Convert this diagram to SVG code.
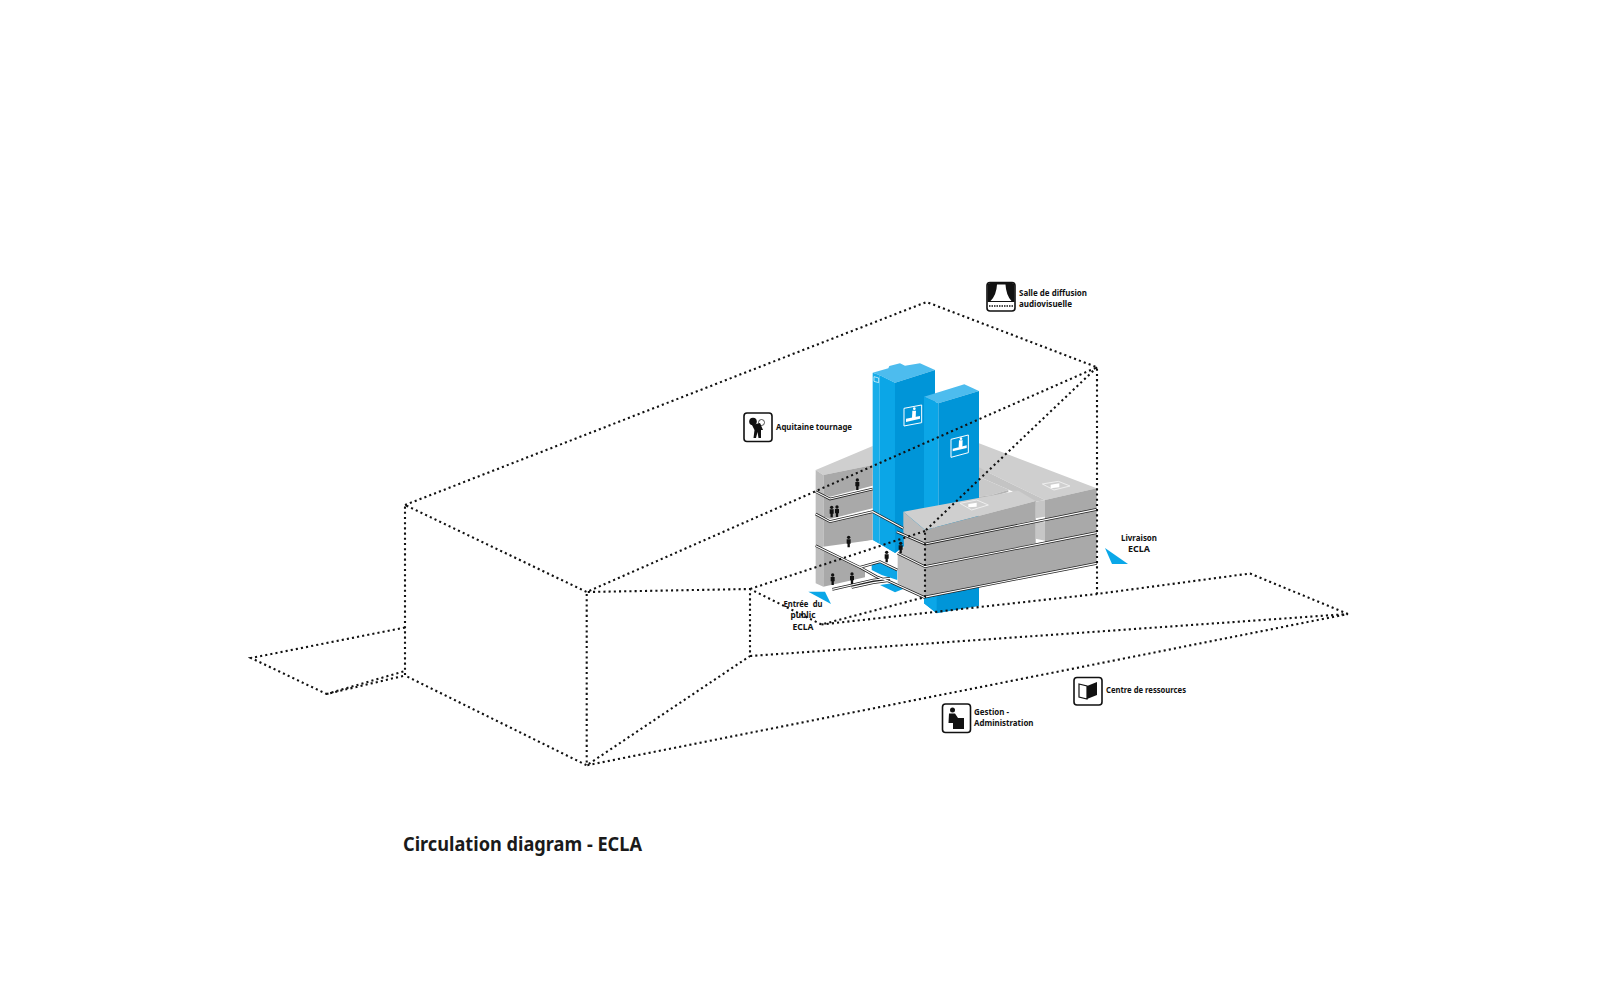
<svg xmlns="http://www.w3.org/2000/svg" width="1600" height="1000" viewBox="0 0 1600 1000">
<style>
.lbl{font-family:"Noto Sans","Liberation Sans",Arial,sans-serif;font-weight:700;font-size:9.5px;fill:#111}
.mid{text-anchor:middle}
.dot{fill:none;stroke:#111;stroke-width:2.1;stroke-dasharray:2.1 3.1}
.box{fill:#fff;stroke:#111;stroke-width:1.6}
.kk{fill:#111}
.top{fill:#cfcfcf}.front{fill:#a9a9a9}.side{fill:#bcbcbc}.white{fill:#fff}
.btop{fill:#4dbcee}.bl1{fill:#18ade9}.bl2{fill:#0ba6e7}.bd{fill:#0095d8}
.sk{fill:none;stroke:#222;stroke-width:8;stroke-linejoin:miter}
.sw{fill:none;stroke:#fff;stroke-width:3.4;stroke-linejoin:miter}
</style>
<defs>
<path id="slabs" d="M107,455L150,477L278,447M107,522L150,545L278,515L370,565M350,575L435,612L950,508M353,640L435,680L950,578M430,772L950,670M107,617L240,682L300,665L352,690M240,682L290,710L330,725L432,772M157,748L215,735L280,720L330,715M215,742L280,728L325,722"/>
<g id="p"><circle cx="0" cy="-30" r="5" fill="#111"/><path d="M-6,-24H6V-11H3.500V0H-3.500V-11H-6Z" fill="#111"/></g>
</defs>
<g id="building" transform="translate(780 340) scale(.33333)">
<polygon class="top" points="107,390 278,318 278,375 130,405"/>
<polygon class="top" points="597,310 950,445 795,480 630,400 597,385"/>
<polygon fill="#c4c4c4" points="597,382 630,400 795,480 767,485 597,410"/>
<polygon fill="#c9c9c9" points="597,410 767,485 715,452 685,450 635,465 597,470"/>
<polygon fill="#b4b4b4" points="685,450 685,456 635,471 597,476 597,470 635,465"/>
<polygon class="front" points="795,480 950,445 950,508 795,540"/>
<polygon fill="#c6c6c6" points="767,485 795,480 795,610 767,610"/>
<polygon class="white" points="767,535 795,530 795,547 767,545"/>
<polygon class="white" points="767,596 795,602 795,612 767,612"/>
<polygon class="btop" points="278,98 325,85 328,78 360,70 375,77 420,70 465,90 345,128 298,105"/>
<polygon class="bl1" points="278,98 298,105 298,612 278,602"/>
<polygon class="bl2" points="298,105 345,128 345,640 298,612"/>
<polygon class="bd" points="345,128 465,90 465,560 370,620 345,640"/>
<polygon class="btop" points="432,170 553,133 597,153 475,190"/>
<polygon class="bl2" points="432,170 475,190 475,500 432,520"/>
<polygon class="bd" points="475,190 597,153 597,798 470,820 432,790 475,500"/>
<polygon class="bl2" points="432,790 470,820 470,600 432,600"/>
<polygon class="front" points="130,405 278,375 278,600 130,630"/>
<polygon class="side" points="107,390 130,405 130,740 107,730"/>
<polygon class="front" points="130,625 255,690 255,712 130,740"/>
<polygon class="white" points="133,463 150,470 278,437 278,447 150,477"/>
<polygon class="white" points="133,530 150,537 278,505 278,515 150,545"/>
<polygon class="white" points="118,622 278,600 345,640 352,668 300,665 240,682"/>
<polygon class="white" points="255,690 300,672 352,697 352,722 330,725 290,712 255,712"/>
<polygon class="bl2" points="275,670 300,665 352,690 352,720 305,705 275,690"/>
<polygon class="bl2" points="300,735 345,757 375,745 335,730"/>
<polygon class="top" points="370,515 715,452 767,483 435,570"/>
<polygon class="front" points="435,570 767,483 767,540 435,612"/>
<polygon class="front" points="435,612 767,545 767,610 435,680"/>
<polygon class="front" points="795,540 950,508 950,578 795,610"/>
<polygon class="front" points="435,680 950,578 950,670 435,772"/>
<polygon class="side" points="370,515 435,570 435,772 353,730 353,640 372,620 370,570"/>
<use href="#slabs" class="sk"/>
<use href="#slabs" class="sw"/>
<use href="#p" x="232" y="450"/><use href="#p" x="155" y="532"/><use href="#p" x="171" y="531"/><use href="#p" x="206" y="622"/><use href="#p" x="158" y="735"/><use href="#p" x="216" y="732"/><use href="#p" x="320" y="667"/><use href="#p" x="362" y="640"/>
<polygon points="85,755 135,755 153,792" fill="#0aa7e8"/>
<g id="t1-icon"><polygon points="372,205 425,195 425,248 372,258" fill="none" stroke="#fff" stroke-width="3"/><path d="M378,236L420,228V236L378,246Z" fill="#fff"/><circle cx="403" cy="206" r="4" fill="#fff"/><path d="M397,212H408L407,234H396Z" fill="#fff"/></g>
<g id="t2-icon"><polygon points="513,298 565,285 565,338 513,352" fill="none" stroke="#fff" stroke-width="3"/><path d="M518,326L560,316V324L518,334Z" fill="#fff"/><circle cx="543" cy="296" r="4" fill="#fff"/><path d="M537,301H548L547,322H536Z" fill="#fff"/></g>
<path d="M282,110L296,114V128L282,124Z" fill="none" stroke="#fff" stroke-width="2"/>
<g id="roof-icons"><polygon points="540,490 590,480 625,495 575,510" fill="#cfcfcf" stroke="#eee" stroke-width="3"/><path d="M565,492L590,488V500L565,502Z" fill="#fff"/>
<polygon points="787,432 835,424 870,438 822,450" fill="#cfcfcf" stroke="#eee" stroke-width="3"/><path d="M812,434L838,430V442L812,445Z" fill="#fff"/></g>
</g>
<g id="connectors">
<path class="dot" d="M405,505L926.500,302L1097,367.300L586.700,592L405,505V675.500L586.700,765.300V592L750,589V656L586.700,765.300L1348,614L750,656"/>
<path class="dot" d="M1348,614L1250,573.500L1097,594V367.300"/>
<path class="dot" d="M1097,367.300L925,531V597L821.500,624.500L750,589M925,531L750,589M821.500,624.500L1097,594"/>
<path class="dot" d="M405,627.500L251,658L326.500,694L405,675.500M326.500,694L405,671"/>
</g>
<polygon id="arrow-livraison" points="1105,548 1128,564 1112,564" fill="#0aa7e8"/>
<g id="salle"><rect class="box" x="987" y="282.500" width="28" height="28.500" rx="3"/>
<path d="M987.500,285q0,-2 3,-2H1012q2.500,0 2.500,2V302H987.500Z" class="kk"/><path d="M997,284.500H1005.500Q1006,295 1011.500,301H990.500Q996.500,295 997,284.500Z" fill="#fff"/>
<path d="M989,306H1013" stroke="#111" stroke-width="1.600" stroke-dasharray="1.500 1"/>
<text class="lbl" x="1019" y="296" textLength="68" lengthAdjust="spacingAndGlyphs">Salle de diffusion</text>
<text class="lbl" x="1019" y="307" textLength="53" lengthAdjust="spacingAndGlyphs">audiovisuelle</text></g>
<g id="aquitaine"><rect class="box" x="744" y="413" width="28" height="28.500" rx="3"/>
<circle cx="753" cy="421.500" r="3.800" class="kk"/><circle cx="761.500" cy="422.500" r="3" fill="#fff" stroke="#111" stroke-width=".7"/><path d="M752,425L760,423L763,430H761L761,438H758.500L757.500,432L756,438H753.500L754.500,430Z" class="kk"/>
<text class="lbl" x="776" y="430" textLength="76" lengthAdjust="spacingAndGlyphs">Aquitaine tournage</text></g>
<g id="centre"><rect class="box" x="1074" y="677.500" width="28" height="27.500" rx="3"/>
<path d="M1079,684L1087,686V699L1079,697Z" fill="#fff" stroke="#111" stroke-width="1.200"/><path d="M1087,686L1097,682V695L1087,699Z" class="kk"/>
<text class="lbl" x="1106" y="693" textLength="80" lengthAdjust="spacingAndGlyphs">Centre de ressources</text></g>
<g id="gestion"><rect class="box" x="942.500" y="704" width="28" height="28.500" rx="3"/>
<circle cx="952.500" cy="710" r="2.500" class="kk"/><path d="M949,713.500H955L958,718H964V729H953V723H948.500Z" class="kk"/>
<text class="lbl" x="974" y="715" textLength="35" lengthAdjust="spacingAndGlyphs">Gestion -</text>
<text class="lbl" x="974" y="726" textLength="59.500" lengthAdjust="spacingAndGlyphs">Administration</text></g>
<g id="livraison"><text class="lbl mid" x="1139" y="541" textLength="36" lengthAdjust="spacingAndGlyphs">Livraison</text><text class="lbl mid" x="1139" y="552" textLength="22" lengthAdjust="spacingAndGlyphs">ECLA</text></g>
<g id="entree"><text class="lbl mid" x="803" y="607" textLength="39" lengthAdjust="spacingAndGlyphs" word-spacing="3">Entrée du</text><text class="lbl mid" x="803" y="618" textLength="25" lengthAdjust="spacingAndGlyphs">public</text><text class="lbl mid" x="803" y="630" textLength="21" lengthAdjust="spacingAndGlyphs">ECLA</text></g>
<text id="title" x="403" y="851" font-family="Noto Sans,Liberation Sans,Arial,sans-serif" font-weight="700" font-size="20" fill="#1a1a1a" textLength="239" lengthAdjust="spacingAndGlyphs">Circulation diagram - ECLA</text>
</svg>
